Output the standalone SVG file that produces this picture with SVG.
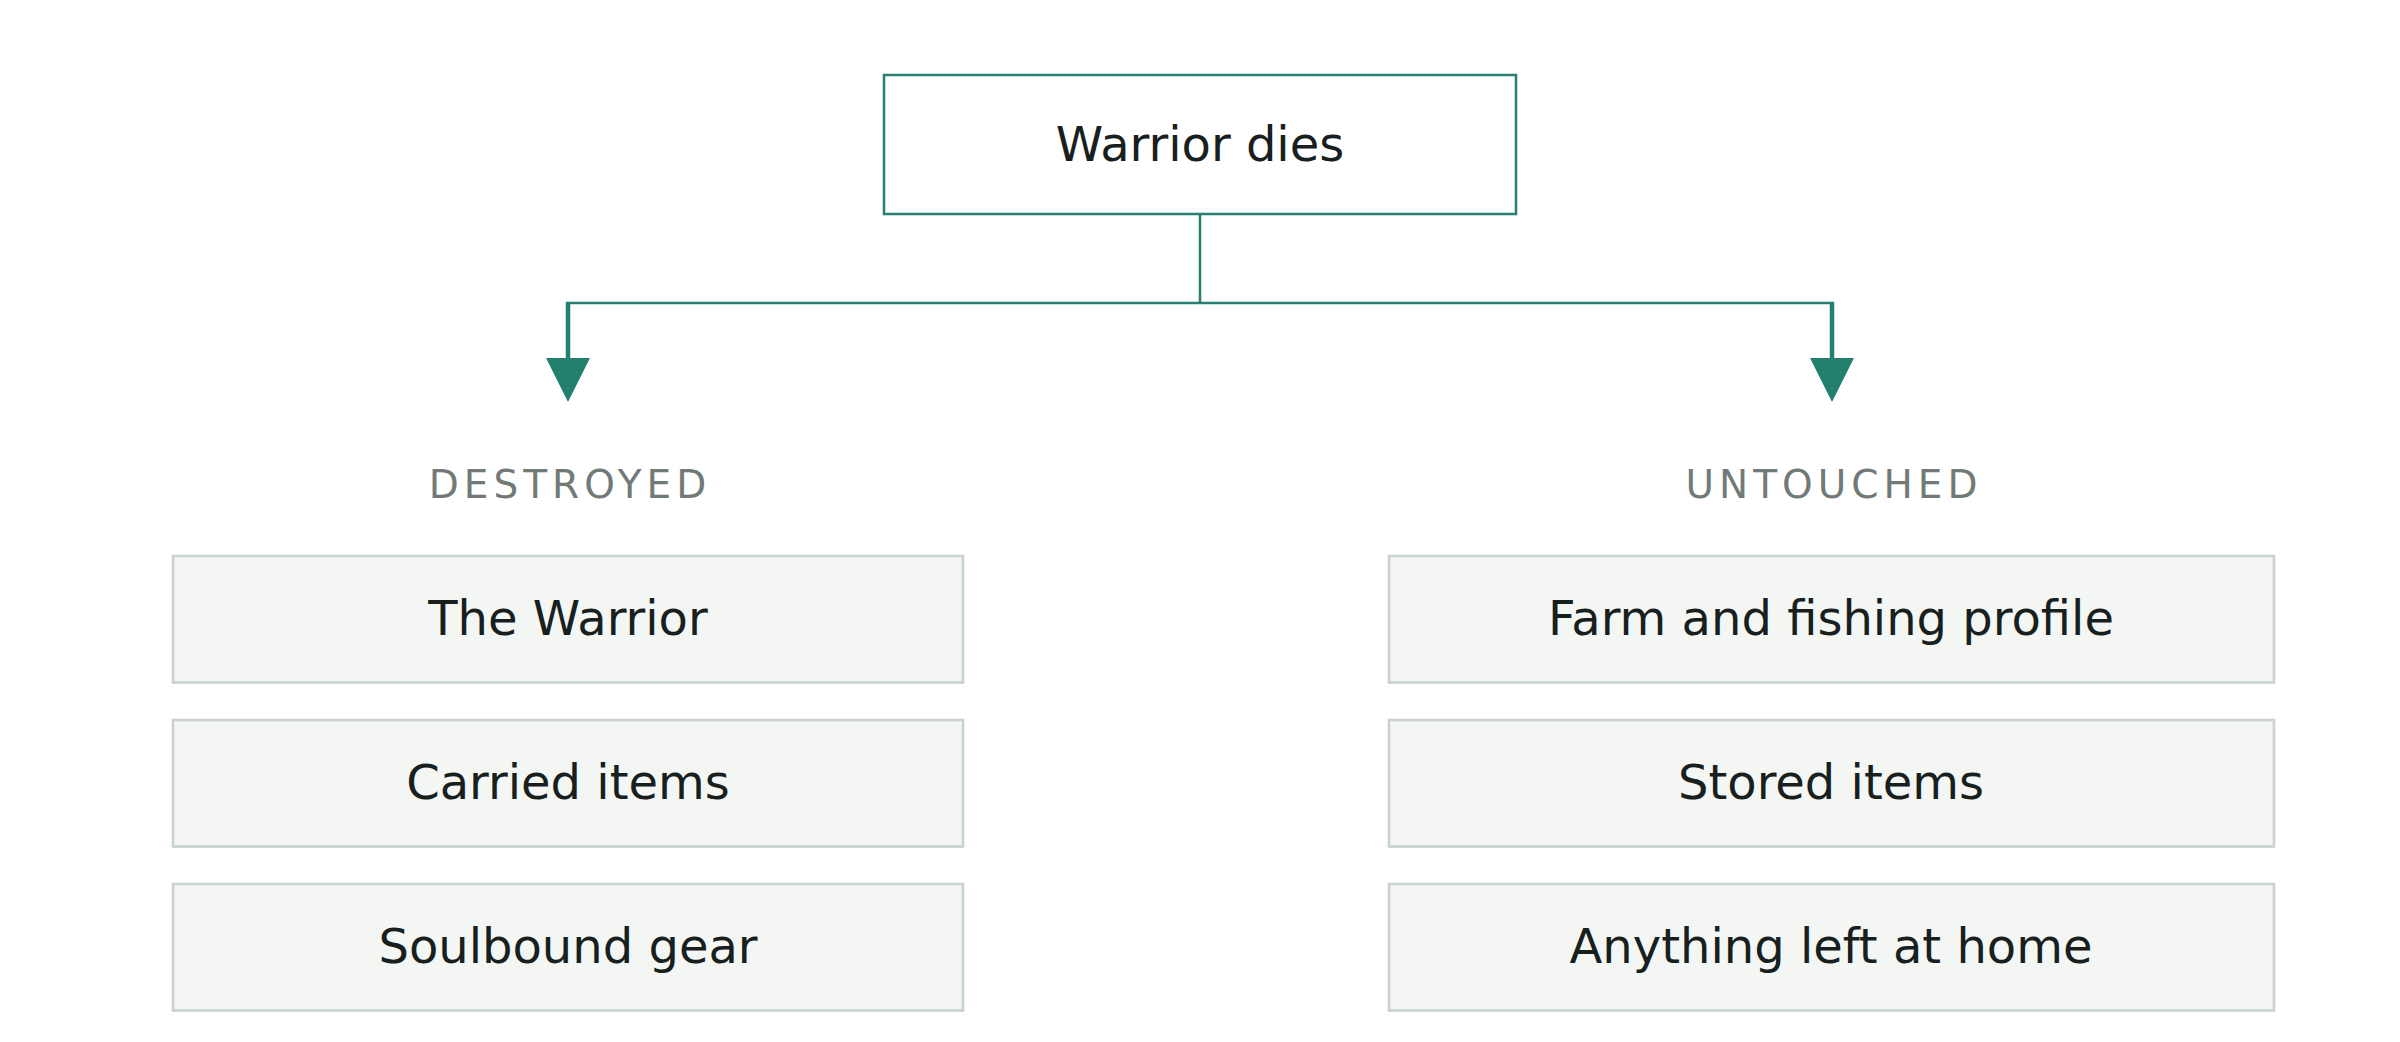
<svg xmlns="http://www.w3.org/2000/svg" width="2400" height="1042" viewBox="0 0 2400 1042">
  <defs>
    <style>
      .root rect { fill: #ffffff; stroke: #267f71; stroke-width: 2.5; }
      .item rect { fill: #f4f6f4; stroke: #c9d3cf; stroke-width: 2.7; }
      .t { font-family: "DejaVu Sans", "Liberation Sans", sans-serif; font-size: 48px; fill: #18201e; text-anchor: middle; }
      .lbl { font-family: "DejaVu Sans", "Liberation Sans", sans-serif; font-size: 39px; fill: #717a76; text-anchor: middle; letter-spacing: 5px; }
      .line { fill: none; stroke: #267f71; stroke-width: 2.5; }
      .stem { fill: none; stroke: #23806f; stroke-width: 4.5; }
      .head { fill: #23806f; }
    </style>
  </defs>
  <rect width="2400" height="1042" fill="#ffffff"/>

  <g id="connectors">
    <path class="line" d="M1200 214 V303"/>
    <path class="line" d="M566 303 H1834"/>
    <path class="stem" d="M568 302 V362"/>
    <polygon class="head" points="546,358 590,358 568,402"/>
    <path class="stem" d="M1832 302 V362"/>
    <polygon class="head" points="1810,358 1854,358 1832,402"/>
  </g>

  <g id="warrior-dies" class="root">
    <rect x="884" y="75" width="632" height="139"/>
    <text class="t" x="1200" y="161">Warrior dies</text>
  </g>

  <g id="label-destroyed">
    <text class="lbl" x="570" y="498">DESTROYED</text>
  </g>
  <g id="label-untouched">
    <text class="lbl" x="1834" y="498">UNTOUCHED</text>
  </g>

  <g id="the-warrior" class="item">
    <rect x="173" y="556" width="790" height="126.5"/>
    <text class="t" x="568" y="634.5">The Warrior</text>
  </g>
  <g id="carried-items" class="item">
    <rect x="173" y="720" width="790" height="126.5"/>
    <text class="t" x="568" y="799">Carried items</text>
  </g>
  <g id="soulbound-gear" class="item">
    <rect x="173" y="884" width="790" height="126.5"/>
    <text class="t" x="568" y="963">Soulbound gear</text>
  </g>

  <g id="farm-fishing" class="item">
    <rect x="1389" y="556" width="885" height="126.5"/>
    <text class="t" x="1831" y="634.5">Farm and fishing profile</text>
  </g>
  <g id="stored-items" class="item">
    <rect x="1389" y="720" width="885" height="126.5"/>
    <text class="t" x="1831" y="799">Stored items</text>
  </g>
  <g id="left-at-home" class="item">
    <rect x="1389" y="884" width="885" height="126.5"/>
    <text class="t" x="1831" y="963">Anything left at home</text>
  </g>
</svg>
